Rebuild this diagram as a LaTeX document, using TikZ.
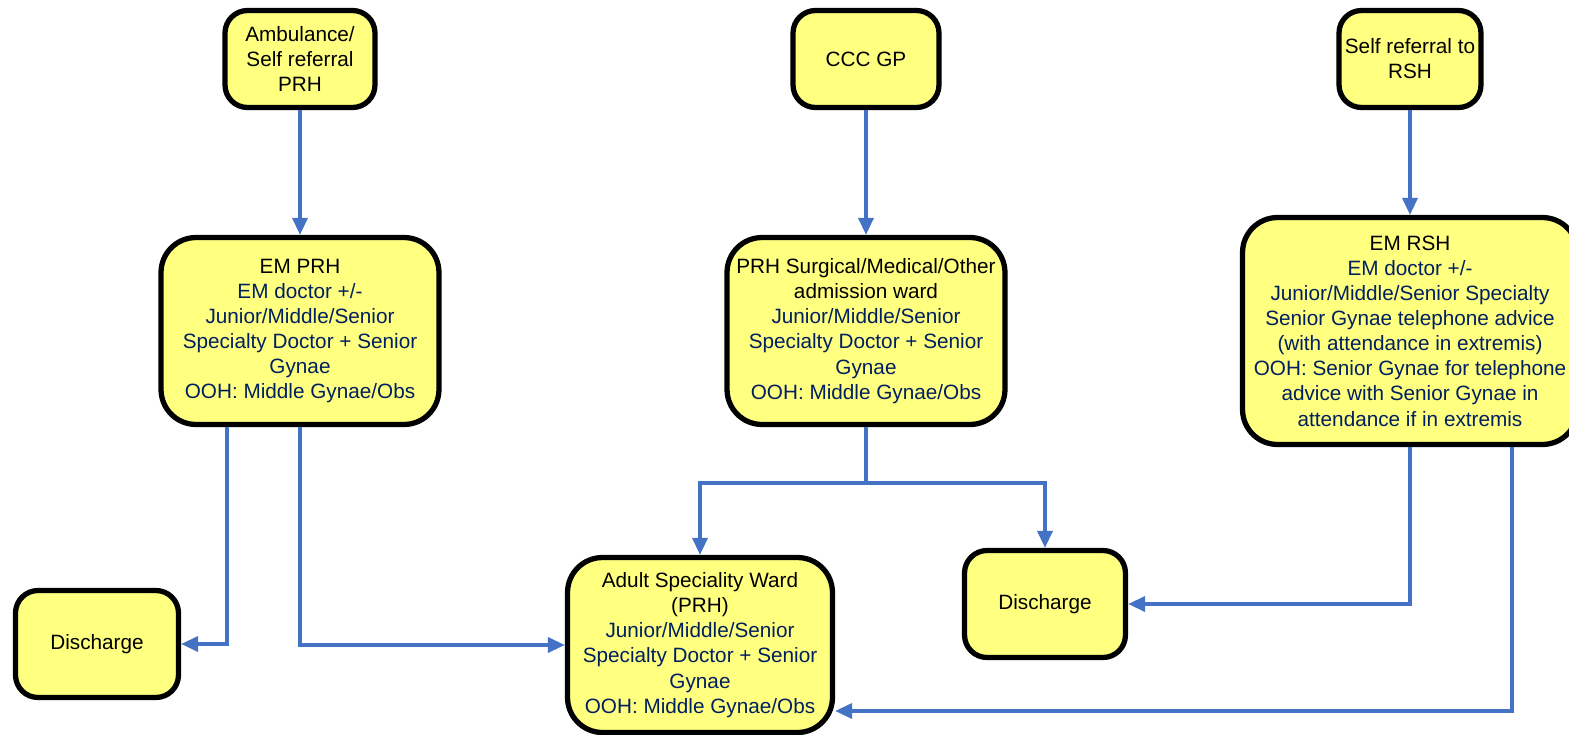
\documentclass[tikz,border=0pt]{standalone}
\usepackage{fontspec}
\setmainfont{Liberation Sans}
\usetikzlibrary{arrows.meta}
\definecolor{boxfill}{RGB}{255,255,128}
\definecolor{flowblue}{RGB}{68,114,196}
\definecolor{staffblue}{RGB}{0,32,96}
\begin{document}
\begin{tikzpicture}[x=0.02cm,y=-0.02cm,inner sep=0pt,outer sep=0pt,
font=\fontsize{11.8}{14.3}\selectfont,
ward/.style={draw,fill=boxfill,line width=3pt,outer sep=1.5pt,rounded corners=0.7cm,align=center,text=staffblue},
source/.style={ward,rounded corners=0.45cm,text=black},
flow/.style={draw=flowblue,line width=2pt,-{Triangle[length=0.34cm,width=0.3cm]}}]
\useasboundingbox (0,0) rectangle (1569,734);

% where patients come from
\draw (300,59) node[source,minimum width=3cm,minimum height=1.94cm] (amb) {Ambulance/\\Self referral\\PRH};
\draw (866,59) node[source,minimum width=2.92cm,minimum height=1.94cm] (ccc) {CCC GP};
\draw (1410,59) node[source,minimum width=2.84cm,minimum height=1.94cm] (self) {Self referral to\\RSH};

% first assessment
\draw (300,331) node[ward,minimum width=5.56cm,minimum height=3.74cm] (emprh)
  {\textcolor{black}{EM PRH}\\EM doctor +/-\\Junior/Middle/Senior\\Specialty Doctor + Senior\\Gynae\\OOH: Middle Gynae/Obs};
\draw (866,331) node[ward,minimum width=5.56cm,minimum height=3.74cm] (prhward)
  {\textcolor{black}{PRH Surgical/Medical/Other}\\\textcolor{black}{admission ward}\\Junior/Middle/Senior\\Specialty Doctor + Senior\\Gynae\\OOH: Middle Gynae/Obs};
\draw (1410,331) node[ward,minimum width=6.7cm,minimum height=4.54cm] (emrsh)
  {\textcolor{black}{EM RSH}\\EM doctor +/-\\Junior/Middle/Senior Specialty\\Senior Gynae telephone advice\\(with attendance in extremis)\\OOH: Senior Gynae for telephone\\advice with Senior Gynae in\\attendance if in extremis};

% outcomes
\draw (97,644) node[ward,rounded corners=0.45cm,minimum width=3.26cm,minimum height=2.14cm,text=black] (dis1) {Discharge};
\draw (700,645) node[ward,minimum width=5.3cm,minimum height=3.5cm] (adult)
  {\textcolor{black}{Adult Speciality Ward}\\\textcolor{black}{(PRH)}\\Junior/Middle/Senior\\Specialty Doctor + Senior\\Gynae\\OOH: Middle Gynae/Obs};
\draw (1045,604) node[ward,rounded corners=0.45cm,minimum width=3.22cm,minimum height=2.14cm,text=black] (dis2) {Discharge};

\coordinate (split) at (866,483);
\coordinate (rshturn) at (1512,711);

\draw[flow] (amb) -- (emprh);
\draw[flow] (ccc) -- (prhward);
\draw[flow] (self) -- (emrsh);
\draw[flow] ([xshift=-1.46cm]emprh.south) |- (dis1);
\draw[flow] (emprh.south) |- (adult);
\draw[flow] (prhward.south) -- (split) -| (adult);
\draw[flow] (split) -| (dis2);
\draw[flow] (emrsh.south) |- (dis2);
\draw[flow] (emrsh.south -| rshturn) -- (rshturn) -- (adult.east |- rshturn);
\end{tikzpicture}
\end{document}
